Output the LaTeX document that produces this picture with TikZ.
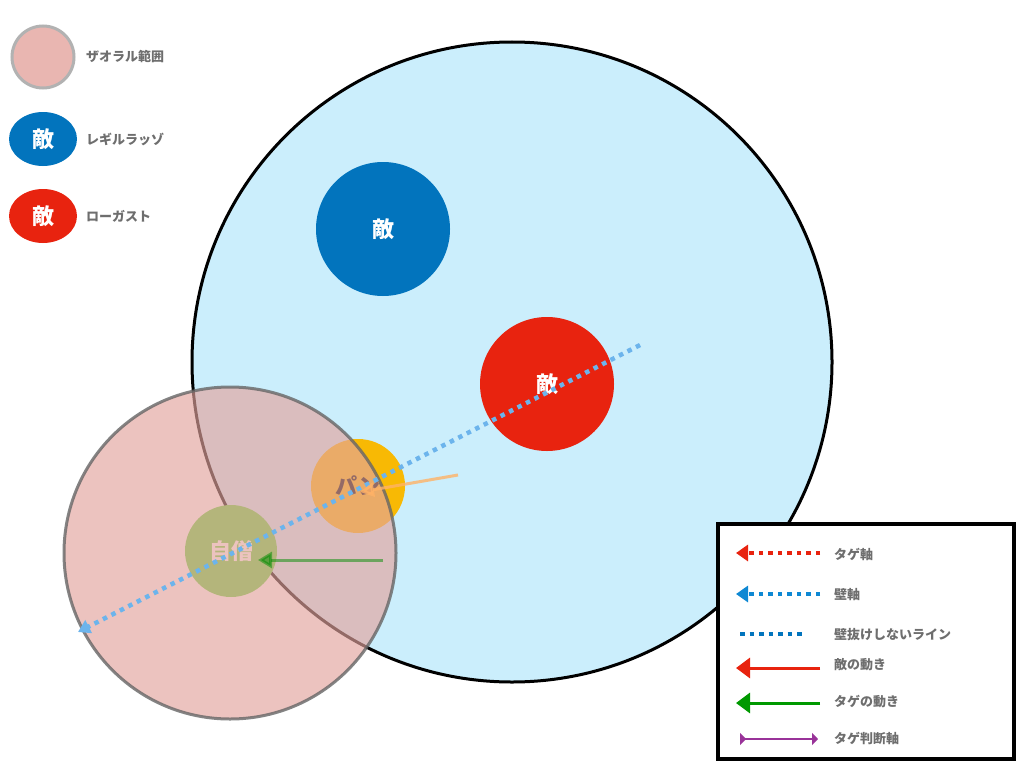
\documentclass[tikz,border=0pt]{standalone}
\usepackage{fontspec}
\setmainfont{Noto Sans CJK JP}
\usetikzlibrary{arrows.meta,shapes.geometric}
\definecolor{sky}{HTML}{CBEEFC}
\definecolor{zpink}{HTML}{E3A49E}
\definecolor{eblue}{HTML}{0274BD}
\definecolor{ered}{HTML}{E8230F}
\definecolor{pan}{HTML}{F8B904}
\definecolor{jis}{HTML}{5FD63A}
\definecolor{lbl}{HTML}{6E6E6E}
\definecolor{axb}{HTML}{6CB4EC}
\tikzset{
  disc/.style={circle,inner sep=0pt,minimum size=#1,font=\bfseries\fontsize{22}{22}\selectfont,text=white},
  lab/.style={anchor=west,text=lbl,font=\bfseries\fontsize{13}{13}\selectfont,inner sep=0pt},
  dotax/.style={line width=4.5pt,dash pattern=on 4.5pt off 5pt},
}
\begin{document}
\begin{tikzpicture}[x=1pt,y=-1pt]
\useasboundingbox (0,0) rectangle (1024,768);
\fill[white] (0,0) rectangle (1024,768);
% big circle
\node[circle,draw=black,line width=3pt,fill=sky,minimum size=640,inner sep=0pt] (big) at (512,362) {};
\node[disc=134,fill=eblue] (e1) at (383,229) {敵};
\node[disc=134,fill=ered] (e2) at (547,384) {敵};
\node[disc=94,fill=pan,text=black] (pan) at (358,486) {パン};
\node[disc=92,fill=jis] (me) at (231,551) {自僧};
% zone
\node[circle,draw=gray!80!black,line width=3pt,fill=zpink,fill opacity=0.65,draw opacity=0.8,minimum size=332,inner sep=0pt] (zone) at (230,553) {};
% wall axis
\coordinate (a1) at (640,345);
\coordinate (a2) at (78,632);
\draw[axb,dotax,-{Triangle[length=12pt,width=14pt]}] (a1) -- (a2);
\coordinate (o1) at (458,475);
\coordinate (o2) at (360,492);
\draw[orange!60,line width=3pt,opacity=0.8,-{Triangle[length=14pt,width=14pt]}] (o1) -- (o2);
\coordinate (g1) at (383,560);
\coordinate (g2) at (258,560);
\draw[green!55!black,line width=3pt,opacity=0.5,-{Triangle[length=14pt,width=16pt]}] (g1) -- (g2);
% top-left legend
\node[circle,fill=zpink!80,draw=gray!60,line width=3pt,minimum size=62,inner sep=0pt] (lz) at (43,57) {};
\node[lab] (lzt) at (86,57) {ザオラル範囲};
\node[ellipse,fill=eblue,minimum width=68,minimum height=54,inner sep=0pt,text=white,font=\bfseries\fontsize{22}{22}\selectfont] (lb) at (43,139) {敵};
\node[lab] (lbt) at (86,139) {レギルラッゾ};
\node[ellipse,fill=ered,minimum width=68,minimum height=54,inner sep=0pt,text=white,font=\bfseries\fontsize{22}{22}\selectfont] (lr) at (43,216) {敵};
\node[lab] (lrt) at (86,216) {ローガスト};
% legend box
\node[draw=black,line width=4pt,fill=white,minimum width=296,minimum height=235,inner sep=0pt,anchor=north west] (box) at (716,522) {};
\coordinate (r1) at (820,553); \coordinate (r2) at (736,553);
\draw[ered,dotax,-{Triangle[length=12pt,width=16pt]}] (r1) -- (r2);
\node[lab] (t1) at (834,554) {タゲ軸};
\coordinate (b1) at (820,594); \coordinate (b2) at (736,594);
\draw[cyan!70!blue,dotax,-{Triangle[length=12pt,width=16pt]}] (b1) -- (b2);
\node[lab] (t2) at (834,595) {壁軸};
\coordinate (c1) at (740,634); \coordinate (c2) at (806,634);
\draw[eblue,dotax] (c1) -- (c2);
\node[lab] (t3) at (834,635) {壁抜けしないライン};
\coordinate (d1) at (820,668); \coordinate (d2) at (736,668);
\draw[ered,line width=3pt,-{Triangle[length=14pt,width=20pt]}] (d1) -- (d2);
\node[lab] (t4) at (834,665) {敵の動き};
\coordinate (f1) at (820,703); \coordinate (f2) at (736,703);
\draw[green!60!black,line width=3pt,-{Triangle[length=14pt,width=20pt]}] (f1) -- (f2);
\node[lab] (t5) at (834,702) {タゲの動き};
\coordinate (h1) at (740,739); \coordinate (h2) at (818,739);
\draw[violet!80,line width=2pt,{Triangle[reversed,length=6pt,width=12pt]}-{Triangle[length=6pt,width=12pt]}] (h1) -- (h2);
\node[lab] (t6) at (834,738) {タゲ判断軸};
\end{tikzpicture}
\end{document}
